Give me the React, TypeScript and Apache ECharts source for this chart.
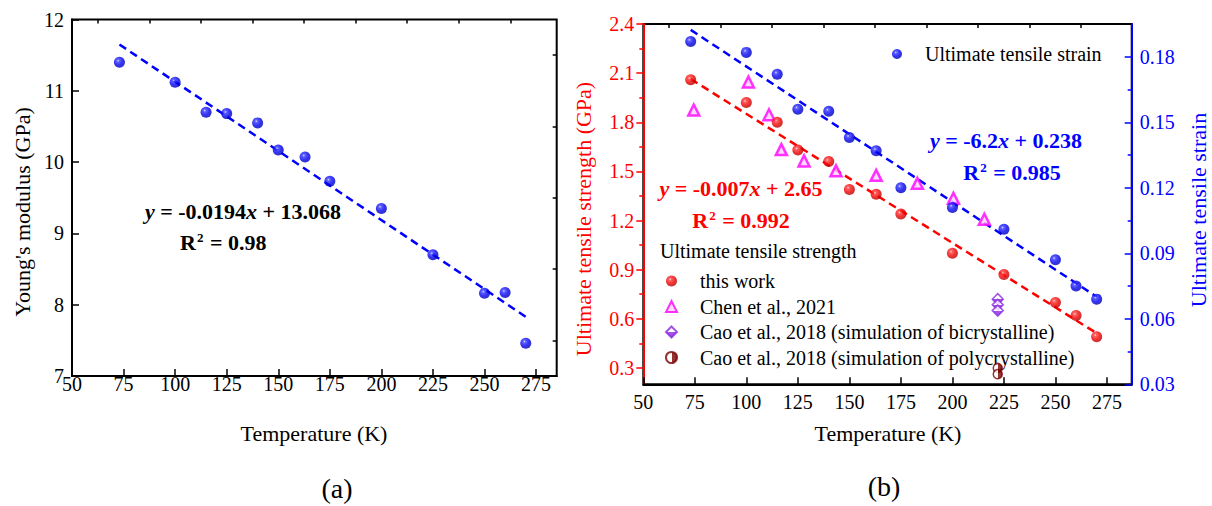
import React, { useEffect, useRef } from "react";
import * as echarts from "echarts";

const FONT = "'Liberation Serif', serif";

// ---- data ----
const tempsA = [73, 100, 115, 125, 140, 150, 163, 175, 200, 225, 250, 260, 270];
const youngs = [11.4, 11.12, 10.7, 10.68, 10.55, 10.17, 10.07, 9.73, 9.35, 8.7, 8.16, 8.17, 7.46];
const fitAX = [73, 270];
const fitAY = [11.65, 7.83];

const tempsB = [73, 100, 115, 125, 140, 150, 163, 175, 200, 225, 250, 260, 270];
const strength = [2.06, 1.92, 1.8, 1.63, 1.56, 1.39, 1.36, 1.24, 1.0, 0.87, 0.7, 0.62, 0.49];
const strain = [0.187, 0.182, 0.172, 0.156, 0.155, 0.143, 0.137, 0.12, 0.111, 0.101, 0.087, 0.075, 0.069];
const fitStrengthX = [73, 270];
const fitStrengthY = [2.064, 0.512];
const fitStrainX = [73, 270];
const fitStrainY = [0.1923, 0.0701];

const chenT = [74.5, 101, 111, 117, 128, 143.5, 163, 183, 200.5, 215.5];
const chenV = [1.875, 2.046, 1.846, 1.633, 1.564, 1.504, 1.476, 1.427, 1.336, 1.208];
const caoBiT = [222, 222, 222];
const caoBiV = [0.72, 0.685, 0.65];
const caoPolyT = [222, 222];
const caoPolyV = [0.3, 0.262];

const xTicks = [50, 75, 100, 125, 150, 175, 200, 225, 250, 275];
const xMinor = [62.5, 87.5, 112.5, 137.5, 162.5, 187.5, 212.5, 237.5, 262.5];
const yMinorA = [7.5, 8.5, 9.5, 10.5, 11.5];
const yTicksL = [0.3, 0.6, 0.9, 1.2, 1.5, 1.8, 2.1, 2.4];
const yMinorL = [0.45, 0.75, 1.05, 1.35, 1.65, 1.95, 2.25];
const yTicksR = [0.03, 0.06, 0.09, 0.12, 0.15, 0.18];
const yMinorR = [0.045, 0.075, 0.105, 0.135, 0.165];

const NAME_STRAIN = "Ultimate tensile strain";
const NAME_WORK = "this work";
const NAME_CHEN = "Chen et al., 2021";
const NAME_BI = "Cao et al., 2018 (simulation of bicrystalline)";
const NAME_POLY = "Cao et al., 2018 (simulation of polycrystalline)";

const zip = (a: number[], b: number[]) => a.map((v, i) => [v, b[i]]);

const ball = (light: string, mid: string, main: string, dark: string) => ({
  type: "radial",
  x: 0.38,
  y: 0.35,
  r: 0.65,
  colorStops: [
    { offset: 0, color: light },
    { offset: 0.18, color: mid },
    { offset: 0.6, color: main },
    { offset: 1, color: dark },
  ],
});

const blueBall = ball("#d8d8ff", "#3c3cff", "#0000f0", "#0000b8");
const redBall = ball("#ffd8d8", "#ff3c3c", "#f00000", "#b80000");

const halfV = (c: string) => ({
  type: "linear",
  x: 0,
  y: 0,
  x2: 0,
  y2: 1,
  colorStops: [
    { offset: 0, color: "#ffffff" },
    { offset: 0.5, color: "#ffffff" },
    { offset: 0.5, color: c },
    { offset: 1, color: c },
  ],
});
const halfH = (c: string) => ({
  type: "linear",
  x: 0,
  y: 0,
  x2: 1,
  y2: 0,
  colorStops: [
    { offset: 0, color: "#ffffff" },
    { offset: 0.5, color: "#ffffff" },
    { offset: 0.5, color: c },
    { offset: 1, color: c },
  ],
});

function mainX(grid: number, max: number, margin: number) {
  return {
    type: "value",
    gridIndex: grid,
    min: 50,
    max,
    axisLine: { show: true, lineStyle: { color: "#000", width: 2 } },
    axisTick: { show: true, inside: true, length: 7, customValues: xTicks, lineStyle: { color: "#000", width: 1.5 } },
    axisLabel: { show: true, customValues: xTicks, margin, fontSize: 20, fontFamily: FONT, color: "#000" },
    splitLine: { show: false },
  };
}
function minorX(grid: number, max: number) {
  return {
    type: "value",
    gridIndex: grid,
    min: 50,
    max,
    axisLine: { show: false },
    axisTick: { show: true, inside: true, length: 4, customValues: xMinor, lineStyle: { color: "#000", width: 1.5 } },
    axisLabel: { show: false, customValues: xMinor },
    splitLine: { show: false },
  };
}

export default function App() {
  const ref = useRef<HTMLDivElement>(null);
  useEffect(() => {
    if (!ref.current) return;
    const chart = echarts.init(ref.current, null, { renderer: "svg" });
    const eqText = (x: number, y: number, text: string, color: string, align = "center") => ({
      type: "text",
      x,
      y,
      z: 100,
      style: {
        text,
        fontSize: 22,
        fontFamily: FONT,
        fontWeight: "bold",
        fill: color,
        align,
        verticalAlign: "middle",
        rich: {
          i: { fontSize: 22, fontFamily: FONT, fontWeight: "bold", fontStyle: "italic", color },
          n: { fontSize: 22, fontFamily: FONT, fontWeight: "bold", color },
          s: { fontSize: 13, fontFamily: FONT, fontWeight: "bold", color, verticalAlign: "top", padding: [0, 1, 0, 1] },
        },
      },
    });
    const plain = (x: number, y: number, text: string, size: number, color = "#000", rotation = 0, align = "center") => ({
      type: "text",
      x,
      y,
      rotation,
      z: 100,
      style: { text, fontSize: size, fontFamily: FONT, fill: color, align, verticalAlign: "middle" },
    });

    const option: any = {
      animation: false,
      backgroundColor: "#ffffff",
      grid: [
        { left: 72, top: 19.5, width: 484.7, height: 356.5, show: true, borderColor: "#000", borderWidth: 2, backgroundColor: "transparent" },
        { left: 643.3, top: 24, width: 488.4, height: 360.3, show: true, borderColor: "#000", borderWidth: 2, backgroundColor: "transparent" },
      ],
      xAxis: [mainX(0, 285, -2), minorX(0, 285), mainX(1, 287, 8), minorX(1, 287)],
      yAxis: [
        {
          type: "value",
          gridIndex: 0,
          min: 7,
          max: 12,
          interval: 1,
          axisLine: { show: true, lineStyle: { color: "#000", width: 2 } },
          axisTick: { show: true, inside: true, length: 7, lineStyle: { color: "#000", width: 1.5 } },
          axisLabel: { margin: 8, fontSize: 20, fontFamily: FONT, color: "#000" },
          splitLine: { show: false },
        },
        {
          type: "value",
          gridIndex: 0,
          min: 7,
          max: 12,
          axisLine: { show: false },
          axisTick: { show: true, inside: true, length: 4, customValues: yMinorA, lineStyle: { color: "#000", width: 1.5 } },
          axisLabel: { show: false, customValues: yMinorA },
          splitLine: { show: false },
        },
        {
          type: "value",
          gridIndex: 1,
          position: "left",
          min: 0.2,
          max: 2.4,
          axisLine: { show: true, lineStyle: { color: "#ff0000", width: 2 } },
          axisTick: { show: true, inside: false, length: 7, customValues: yTicksL, lineStyle: { color: "#ff0000", width: 1.5 } },
          axisLabel: { customValues: yTicksL, margin: 9, fontSize: 20, fontFamily: FONT, color: "#ff0000", formatter: (v: number) => v.toFixed(1) },
          splitLine: { show: false },
        },
        {
          type: "value",
          gridIndex: 1,
          position: "right",
          min: 0.03,
          max: 0.195,
          axisLine: { show: true, lineStyle: { color: "#0000ff", width: 2 } },
          axisTick: { show: true, inside: true, length: 7, customValues: yTicksR, lineStyle: { color: "#0000ff", width: 1.5 } },
          axisLabel: { customValues: yTicksR, margin: 8, fontSize: 20, fontFamily: FONT, color: "#0000ff", formatter: (v: number) => v.toFixed(2) },
          splitLine: { show: false },
        },
        {
          type: "value",
          gridIndex: 1,
          position: "left",
          min: 0.2,
          max: 2.4,
          axisLine: { show: false },
          axisTick: { show: true, inside: false, length: 4, customValues: yMinorL, lineStyle: { color: "#ff0000", width: 1.5 } },
          axisLabel: { show: false, customValues: yMinorL },
          splitLine: { show: false },
        },
        {
          type: "value",
          gridIndex: 1,
          position: "right",
          min: 0.03,
          max: 0.195,
          axisLine: { show: false },
          axisTick: { show: true, inside: true, length: 4, customValues: yMinorR, lineStyle: { color: "#0000ff", width: 1.5 } },
          axisLabel: { show: false, customValues: yMinorR },
          splitLine: { show: false },
        },
      ],
      legend: [
        {
          data: [NAME_STRAIN],
          left: 887,
          top: 39,
          itemWidth: 10,
          itemHeight: 10,
          selectedMode: false,
          textStyle: { fontSize: 20, fontFamily: FONT, color: "#000", lineHeight: 20, padding: [0, 0, 0, 18] },
        },
        {
          data: [NAME_WORK, NAME_CHEN, NAME_BI, NAME_POLY],
          orient: "vertical",
          left: 660,
          top: 266,
          itemGap: 5.5,
          itemWidth: 11,
          itemHeight: 11,
          selectedMode: false,
          textStyle: { fontSize: 20, fontFamily: FONT, color: "#000", lineHeight: 20, padding: [0, 0, 0, 18] },
        },
      ],
      series: [
        {
          type: "line",
          xAxisIndex: 0,
          yAxisIndex: 0,
          data: zip(fitAX, fitAY),
          symbol: "none",
          lineStyle: { color: "#0000ff", width: 2.5, type: [8, 5] },
          z: 2,
        },
        {
          type: "scatter",
          xAxisIndex: 0,
          yAxisIndex: 0,
          data: zip(tempsA, youngs),
          symbolSize: 11,
          itemStyle: { color: blueBall },
          z: 3,
        },
        {
          type: "line",
          xAxisIndex: 2,
          yAxisIndex: 3,
          data: zip(fitStrainX, fitStrainY),
          symbol: "none",
          lineStyle: { color: "#0000ff", width: 2.5, type: [8, 5] },
          z: 2,
        },
        {
          type: "line",
          xAxisIndex: 2,
          yAxisIndex: 2,
          data: zip(fitStrengthX, fitStrengthY),
          symbol: "none",
          lineStyle: { color: "#ff0000", width: 2.5, type: [8, 5] },
          z: 2,
        },
        {
          name: NAME_CHEN,
          type: "scatter",
          xAxisIndex: 2,
          yAxisIndex: 2,
          data: zip(chenT, chenV),
          symbol: "triangle",
          symbolSize: 11,
          itemStyle: { color: "#ffd0ff", borderColor: "#ff00ff", borderWidth: 2.5 },
          z: 3,
        },
        {
          name: NAME_STRAIN,
          type: "scatter",
          xAxisIndex: 2,
          yAxisIndex: 3,
          data: zip(tempsB, strain),
          symbolSize: 11,
          itemStyle: { color: blueBall },
          z: 4,
        },
        {
          name: NAME_WORK,
          type: "scatter",
          xAxisIndex: 2,
          yAxisIndex: 2,
          data: zip(tempsB, strength),
          symbolSize: 11,
          itemStyle: { color: redBall },
          z: 4,
        },
        {
          name: NAME_BI,
          type: "scatter",
          xAxisIndex: 2,
          yAxisIndex: 2,
          data: zip(caoBiT, caoBiV),
          symbol: "diamond",
          symbolSize: [11, 11],
          itemStyle: { color: halfV("#8a2be2"), borderColor: "#8a2be2", borderWidth: 1.5 },
          z: 4,
        },
        {
          name: NAME_POLY,
          type: "scatter",
          xAxisIndex: 2,
          yAxisIndex: 2,
          data: zip(caoPolyT, caoPolyV),
          symbol: "circle",
          symbolSize: 9,
          itemStyle: { color: halfH("#7a0000"), borderColor: "#7a0000", borderWidth: 1.5 },
          z: 4,
        },
      ],
      graphic: [
        plain(22, 212, "Young's modulus (GPa)", 22, "#000", Math.PI / 2),
        plain(314, 433, "Temperature (K)", 22),
        plain(337, 488, "(a)", 28),
        plain(583, 219, "Ultimate tensile strength (GPa)", 22, "#ff0000", Math.PI / 2),
        plain(1198, 210, "Ultimate tensile strain", 22, "#0000ff", Math.PI / 2),
        plain(888, 433, "Temperature (K)", 22),
        plain(884, 486, "(b)", 28),
        plain(660, 251, "Ultimate tensile strength", 20, "#000", 0, "left"),
        eqText(243, 211, "{i|y}{n| = -0.0194}{i|x}{n| + 13.068}", "#000"),
        eqText(180, 242, "{n|R}{s|2}{n| = 0.98}", "#000", "left"),
        eqText(741, 188, "{i|y}{n| = -0.007}{i|x}{n| + 2.65}", "#ff0000"),
        eqText(741, 220, "{n|R}{s|2}{n| = 0.992}", "#ff0000"),
        eqText(1006, 140, "{i|y}{n| = -6.2}{i|x}{n| + 0.238}", "#0000ff"),
        eqText(1012, 172, "{n|R}{s|2}{n| = 0.985}", "#0000ff"),
      ],
    };
    chart.setOption(option);
    return () => chart.dispose();
  }, []);
  return (
    <div
      ref={ref}
      style={{ position: "absolute", left: 0, top: 0, width: 1212, height: 506, background: "#fff" }}
    />
  );
}
